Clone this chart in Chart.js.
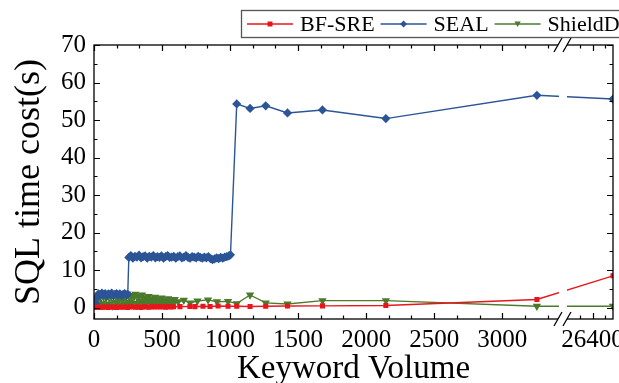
<!DOCTYPE html>
<html><head><meta charset="utf-8">
<script src="https://cdn.jsdelivr.net/npm/chart.js@4.4.1/dist/chart.umd.min.js"></script>
<style>html,body{margin:0;padding:0;background:#fff;}#wrap{width:619px;height:383px;}</style>
</head><body><div id="wrap"><canvas id="c" width="619" height="383"></canvas></div>
<script>
// ---------------- DATA ----------------
const SERIES_NAMES = ['BF-SRE', 'SEAL', 'ShieldDB'];

const SEAL_X = [10,22,34,46,58,70,82,94,106,118,130,142,154,166,178,190,202,214,226,238,248,
  256,271,286,301,316,331,346,361,376,391,406,421,436,451,466,481,496,511,526,541,556,571,586,601,616,631,646,661,676,691,706,721,736,751,766,781,796,811,826,841,856,871,886,901,916,931,946,961,976,991,1003,
  1049,1147,1262,1422,1679,2145,3255,26480];
const SEAL_Y = [1.2,2.9,3.7,3.3,3.9,3.4,3.8,3.2,3.7,3.5,3.9,3.3,3.6,3.8,3.4,3.7,3.3,3.6,3.8,3.4,3.6,
  13.4,13.9,13.2,13.7,13.5,14.0,13.3,13.6,13.8,13.2,13.7,13.5,13.9,13.3,13.6,13.4,13.8,13.2,13.6,13.9,13.4,13.5,13.7,13.2,13.6,13.8,13.3,13.5,13.9,13.4,13.2,13.6,13.5,13.3,13.7,13.4,13.2,13.5,13.3,13.6,13.1,12.8,13.0,13.3,13.1,13.4,13.2,13.5,13.6,13.8,14.1,
  54.3,53.1,53.8,51.9,52.7,50.4,56.6,55.6];

const BFSRE_X = [5,25,45,65,85,105,125,145,165,185,205,225,245,265,285,305,325,345,365,385,405,425,445,465,485,505,525,545,565,585,
  632,705,742,801,853,912,985,1049,1147,1262,1422,1679,2145,3255,26480];
const BFSRE_Y = [0.1,0.2,0.1,0.15,0.2,0.1,0.2,0.15,0.1,0.2,0.15,0.2,0.1,0.2,0.25,0.15,0.2,0.1,0.25,0.2,0.15,0.25,0.2,0.3,0.2,0.25,0.15,0.3,0.2,0.25,
  0.3,0.35,0.3,0.4,0.35,0.45,0.4,0.4,0.35,0.4,0.45,0.5,0.6,2.2,8.5];

const SHIELD_X = [5,17,29,41,53,65,77,89,101,113,125,137,149,161,173,185,197,209,221,233,245,257,269,281,293,305,317,329,341,353,365,377,389,401,413,425,437,449,461,473,485,497,509,521,533,545,557,569,581,593,
  618,660,706,760,838,904,985,1049,1147,1262,1422,1679,2145,3255,26480];
const SHIELD_Y = [0.4,1.8,0.6,2.9,1.1,3.4,0.7,2.6,3.8,1.0,3.1,0.5,3.6,1.4,2.8,0.8,3.5,1.9,3.2,0.9,3.7,1.5,3.3,1.2,2.9,3.6,1.0,3.0,1.7,3.4,1.1,2.7,1.6,3.0,1.3,2.4,0.9,2.8,1.5,2.2,1.0,2.6,1.4,2.1,0.9,2.4,1.2,1.9,1.0,2.2,
  1.6,2.0,1.3,1.8,2.1,1.6,1.7,1.1,3.4,1.3,1.0,1.9,1.9,0.4,0.4];

const X_MAJOR = [0,500,1000,1500,2000,2500,3000,26400];
const X_LABELS = ['0','500','1000','1500','2000','2500','3000','26400'];
const X_MINOR = [166.67,333.33,666.67,833.33,1166.67,1333.33,1666.67,1833.33,2166.67,2333.33,2666.67,2833.33,3166.67,3333.33,26350,26450];
const Y_MAJOR = [0,10,20,30,40,50,60,70];
const Y_MINOR = [-5,5,15,25,35,45,55,65];

// ---------------- AXIS BREAK CONFIG ----------------
const X_MIN = 0, BREAK_LO = 3410, BREAK_HI = 26300, X_MAX = 26480;
const SEG1 = 0.894, GAP = 0.0173;

class BrokenLinearScale extends Chart.LinearScale {
  buildTicks() {
    const t = X_MAJOR.map(v => ({value: v, major: true})).concat(X_MINOR.map(v => ({value: v, major: false})));
    return t.sort((a, b) => a.value - b.value);
  }
  getPixelForValue(value) {
    const L = this.left, W = this.width;
    const w1 = W * SEG1, g = W * GAP;
    if (value <= BREAK_LO) return L + (value - X_MIN) / (BREAK_LO - X_MIN) * w1;
    if (value >= BREAK_HI) return L + w1 + g + (value - BREAK_HI) / (X_MAX - BREAK_HI) * (W - w1 - g);
    return L + w1 + (value - BREAK_LO) / (BREAK_HI - BREAK_LO) * g;
  }
  getValueForPixel(pixel) {
    const L = this.left, W = this.width;
    const w1 = W * SEG1, g = W * GAP;
    const p = pixel - L;
    if (p <= w1) return X_MIN + p / w1 * (BREAK_LO - X_MIN);
    if (p >= w1 + g) return BREAK_HI + (p - w1 - g) / (W - w1 - g) * (X_MAX - BREAK_HI);
    return BREAK_LO + (p - w1) / g * (BREAK_HI - BREAK_LO);
  }
}
BrokenLinearScale.id = 'brokenLinear';
BrokenLinearScale.defaults = Chart.LinearScale.defaults;
Chart.register(BrokenLinearScale);

const FONT = 'Liberation Serif';
const COLORS = ['#e8161c', '#2c5597', '#4b7a2c'];

function pts(xs, ys) { return xs.map((x, i) => ({x: x, y: ys[i]})); }

const framePlugin = {
  id: 'framePlugin',
  afterDatasetsDraw(chart) {
    const ctx = chart.ctx, a = chart.chartArea, xs = chart.scales.x;
    const g0 = xs.getPixelForValue(BREAK_LO), g1 = xs.getPixelForValue(BREAK_HI);
    ctx.save();
    ctx.fillStyle = '#fff';
    ctx.fillRect(g0 + 1, a.top + 1, g1 - g0 - 1, a.bottom - a.top - 2);
    ctx.restore();
  },
  afterDraw(chart) {
    const ctx = chart.ctx, a = chart.chartArea, xs = chart.scales.x, ys = chart.scales.y;
    ctx.save();
    ctx.strokeStyle = '#000';
    ctx.lineWidth = 1.3;
    ctx.strokeRect(a.left, a.top, a.right - a.left, a.bottom - a.top);
    ctx.lineWidth = 1.2;
    ctx.beginPath();
    const tick = (v, len) => {
      const px = Math.round(xs.getPixelForValue(v)) + 0.5;
      ctx.moveTo(px, a.bottom); ctx.lineTo(px, a.bottom - len);
      ctx.moveTo(px, a.top); ctx.lineTo(px, a.top + len);
    };
    X_MAJOR.forEach(v => tick(v, 6));
    X_MINOR.forEach(v => tick(v, 3.5));
    const ytick = (v, len) => {
      const py = Math.round(ys.getPixelForValue(v)) + 0.5;
      if (py < a.top || py > a.bottom) return;
      ctx.moveTo(a.left, py); ctx.lineTo(a.left + len, py);
      ctx.moveTo(a.right, py); ctx.lineTo(a.right - len, py);
    };
    Y_MAJOR.forEach(v => ytick(v, 6));
    Y_MINOR.forEach(v => ytick(v, 3.5));
    ctx.stroke();
    // break marks
    const g0 = xs.getPixelForValue(BREAK_LO), g1 = xs.getPixelForValue(BREAK_HI);
    [a.bottom, a.top].forEach(yy => {
      ctx.fillStyle = '#fff';
      ctx.beginPath();
      ctx.moveTo(g0 - 4, yy + 7); ctx.lineTo(g0 + 4, yy - 7);
      ctx.lineTo(g1 + 4, yy - 7); ctx.lineTo(g1 - 4, yy + 7);
      ctx.closePath(); ctx.fill();
      ctx.beginPath();
      ctx.lineWidth = 1.3;
      ctx.moveTo(g0 - 4, yy + 7); ctx.lineTo(g0 + 4, yy - 7);
      ctx.moveTo(g1 - 4, yy + 7); ctx.lineTo(g1 + 4, yy - 7);
      ctx.stroke();
    });
    ctx.restore();
  }
};

function drawMarker(ctx, style, x, y, color) {
  ctx.fillStyle = color;
  ctx.beginPath();
  if (style === 'rect') { ctx.rect(x - 2.5, y - 2.5, 5, 5); }
  else if (style === 'rectRot') { ctx.moveTo(x, y - 3.5); ctx.lineTo(x + 3.5, y); ctx.lineTo(x, y + 3.5); ctx.lineTo(x - 3.5, y); ctx.closePath(); }
  else { ctx.moveTo(x - 3.2, y - 2.5); ctx.lineTo(x + 3.2, y - 2.5); ctx.lineTo(x, y + 3); ctx.closePath(); }
  ctx.fill();
}

const legendPlugin = {
  id: 'customLegend',
  afterDraw(chart) {
    const ctx = chart.ctx;
    ctx.save();
    ctx.strokeStyle = '#555';
    ctx.lineWidth = 1.3;
    ctx.strokeRect(241.5, 10.5, 420, 27);
    ctx.font = '22px "' + FONT + '"';
    ctx.textBaseline = 'middle';
    let x = 247;
    const y = 24;
    chart.data.datasets.forEach(ds => {
      ctx.strokeStyle = ds.borderColor;
      ctx.lineWidth = 1.3;
      ctx.beginPath(); ctx.moveTo(x, y); ctx.lineTo(x + 46, y); ctx.stroke();
      drawMarker(ctx, ds.legendMarker, x + 23, y, ds.borderColor);
      ctx.fillStyle = '#000';
      ctx.fillText(ds.label, x + 53, y + 1);
      x = x + 53 + ctx.measureText(ds.label).width + 6;
    });
    ctx.restore();
  }
};

new Chart(document.getElementById('c'), {
  type: 'line',
  data: {
    datasets: [
      {label: SERIES_NAMES[0], data: pts(BFSRE_X, BFSRE_Y), borderColor: COLORS[0], backgroundColor: COLORS[0], pointStyle: 'rect', pointRadius: 2.6, borderWidth: 1.4, legendMarker: 'rect'},
      {label: SERIES_NAMES[1], data: pts(SEAL_X, SEAL_Y), borderColor: COLORS[1], backgroundColor: COLORS[1], pointStyle: 'rectRot', pointRadius: 3.6, borderWidth: 1.4, legendMarker: 'rectRot'},
      {label: SERIES_NAMES[2], data: pts(SHIELD_X, SHIELD_Y), borderColor: COLORS[2], backgroundColor: COLORS[2], pointStyle: 'triangle', pointRotation: 180, pointRadius: 3.4, borderWidth: 1.4, legendMarker: 'tri'}
    ]
  },
  options: {
    responsive: false,
    animation: false,
    devicePixelRatio: 1,
    layout: {padding: {top: 45, right: 6, left: 0, bottom: 0}},
    plugins: {legend: {display: false}, tooltip: {enabled: false}},
    elements: {line: {tension: 0}, point: {borderWidth: 0, hoverRadius: 3}},
    scales: {
      x: {
        type: 'brokenLinear', min: X_MIN, max: X_MAX,
        grid: {display: false}, border: {display: false},
        ticks: {autoSkip: false, maxRotation: 0, padding: -2, color: '#000', font: {family: FONT, size: 25},
          callback: v => { const i = X_MAJOR.indexOf(v); return i >= 0 ? X_LABELS[i] : ''; }},
        title: {display: true, text: 'Keyword Volume', color: '#000', font: {family: FONT, size: 33, lineHeight: 0.85}, padding: {top: 0, bottom: 0}},
        afterFit: s => { s.height = 64; }
      },
      y: {
        type: 'linear', min: -3, max: 70,
        afterBuildTicks: s => { s.ticks = Y_MAJOR.map(v => ({value: v})); },
        grid: {display: false}, border: {display: false},
        ticks: {padding: 0, color: '#000', font: {family: FONT, size: 25}},
        title: {display: true, text: 'SQL time cost(s)', color: '#000', font: {family: FONT, size: 36, lineHeight: 1.2}, padding: {top: 8, bottom: 0}},
        afterFit: s => { s.width = 94; }
      }
    }
  },
  plugins: [framePlugin, legendPlugin]
});
</script></body></html>
